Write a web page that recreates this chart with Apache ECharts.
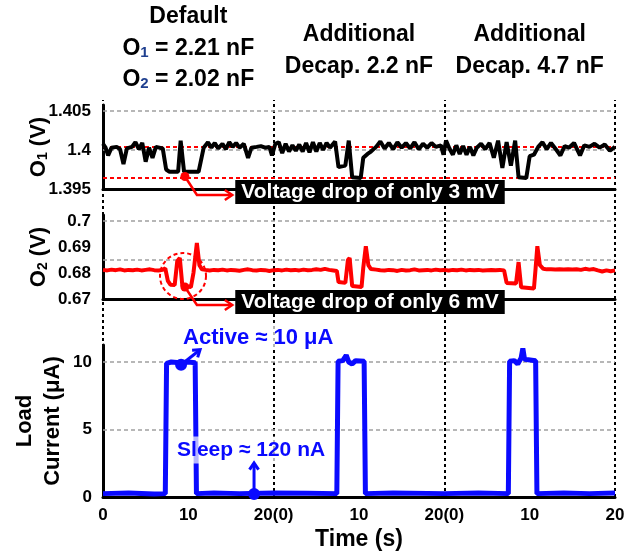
<!DOCTYPE html>
<html><head><meta charset="utf-8">
<script src="https://cdn.jsdelivr.net/npm/echarts@6/dist/echarts.min.js"></script>
<style>html,body{margin:0;padding:0;background:#fff}#c{width:639px;height:559px}</style>
</head><body><div id="c"></div>
<script>
// ---------- DATA ----------
const xTickLabels = ['0', '10', '20(0)', '10', '20(0)', '10', '20'];
const segmentBounds = [0, 20, 40, 60];
const segmentTitles = [
  { center: 10, top: 17, lines: ['Default', 'O{s|1} = 2.21 nF', 'O{s|2} = 2.02 nF'] },
  { center: 30, top: 35, lines: ['Additional', 'Decap. 2.2 nF'] },
  { center: 50, top: 35, lines: ['Additional', 'Decap. 4.7 nF'] }
];
const o1GridLines = [1.4, 1.405];
const o1RedLines = [1.4004, 1.3965];
const o2GridLines = [0.685, 0.7];
const currentGridLines = [5, 10];

const o1Data = [
[0,1.4008],[0.3,1.4003],[0.6,1.3993],[1.0,1.4003],[1.6,1.4004],[2.0,1.4001],[2.4,1.3982],[2.8,1.4002],[3.4,1.4004],[3.8,1.4010],
[4.2,1.4001],[4.6,1.4009],[5.0,1.3985],[5.4,1.4003],[5.8,1.3990],[6.2,1.4004],[6.6,1.4003],[7.0,1.4002],[7.4,1.3975],[7.8,1.3972],
[8.8,1.3972],[9.1,1.4012],[9.5,1.3972],[11.2,1.3972],[11.8,1.4003],[12.3,1.4010],[12.7,1.4003],[13.1,1.4009],[13.5,1.4002],[14.0,1.4008],
[14.4,1.4001],[14.8,1.4010],[15.2,1.4004],[15.6,1.4009],[16.0,1.4003],[16.5,1.4008],[17.0,1.3990],[17.4,1.4003],[18.0,1.4004],[18.5,1.4005],
[19.0,1.4003],[19.5,1.4004],[19.8,1.3993],[20.2,1.4008],[20.6,1.4010],[21.0,1.3996],[21.4,1.4008],[21.8,1.3998],[22.2,1.4006],[22.6,1.3999],
[23.0,1.4007],[23.4,1.3998],[23.8,1.4009],[24.2,1.3997],[24.6,1.4010],[25.0,1.3998],[25.4,1.4009],[25.8,1.4000],[26.2,1.4009],[26.6,1.4003],
[27.2,1.4011],[27.6,1.3978],[28.4,1.3980],[28.8,1.4012],[29.2,1.3965],[30.2,1.3964],[30.5,1.3990],[31.0,1.3995],[31.4,1.3998],[32.0,1.4004],
[32.5,1.4011],[33.0,1.4002],[33.5,1.4009],[34.0,1.4001],[34.5,1.4010],[35.0,1.4003],[35.5,1.4009],[36.0,1.4002],[36.5,1.4010],[37.0,1.4001],
[37.5,1.4008],[38.0,1.4003],[38.5,1.4009],[39.0,1.4004],[39.6,1.4006],[39.9,1.3994],[40.2,1.4012],[40.6,1.4002],[41.0,1.3994],[41.4,1.4006],
[41.8,1.3995],[42.2,1.4005],[42.6,1.3994],[43.0,1.4004],[43.4,1.3993],[43.8,1.4003],[44.3,1.4008],[44.8,1.4001],[45.3,1.4009],[45.8,1.3990],
[46.3,1.4012],[46.8,1.3977],[47.3,1.4010],[47.8,1.3980],[48.3,1.4012],[48.7,1.3965],[49.6,1.3964],[50.0,1.3992],[50.5,1.3994],[51.0,1.4004],
[51.5,1.4010],[52.0,1.4001],[52.5,1.4009],[53.0,1.4002],[53.6,1.3993],[54.1,1.4005],[54.6,1.4003],[55.2,1.4009],[55.9,1.3993],[56.4,1.4006],
[57.0,1.4004],[57.6,1.4008],[58.2,1.4003],[58.8,1.4007],[59.4,1.3999],[60.0,1.4004]
];

const o2Data = [
[0,0.6812],[0.5,0.6810],[1.0,0.6813],[1.5,0.6811],[2.0,0.6814],[2.5,0.6810],[3.0,0.6812],[3.5,0.6811],[4.0,0.6813],[4.5,0.6810],
[5.0,0.6812],[5.5,0.6814],[6.0,0.6811],[6.5,0.6810],[7.0,0.6812],[7.3,0.6818],[7.6,0.6770],[7.9,0.6755],[8.4,0.6754],[8.7,0.6845],
[9.0,0.6858],[9.3,0.6750],[9.5,0.6746],[10.3,0.6746],[10.6,0.6800],[11.0,0.6915],[11.3,0.6830],[11.6,0.6814],[12.0,0.6812],[12.5,0.6810],
[13.0,0.6812],[13.5,0.6811],[14.0,0.6813],[14.5,0.6810],[15.0,0.6812],[15.5,0.6811],[16.0,0.6809],[16.5,0.6812],[17.0,0.6814],[17.5,0.6811],
[18.0,0.6810],[18.5,0.6812],[19.0,0.6811],[19.5,0.6808],[20.0,0.6811],[20.5,0.6812],[21.0,0.6810],[21.5,0.6813],[22.0,0.6811],[22.5,0.6812],
[23.0,0.6810],[23.5,0.6813],[24.0,0.6811],[24.5,0.6812],[25.0,0.6814],[25.5,0.6812],[26.0,0.6816],[26.5,0.6812],[27.0,0.6810],[27.4,0.6808],
[27.6,0.6765],[28.4,0.6762],[28.7,0.6850],[28.9,0.6858],[29.2,0.6750],[29.4,0.6746],[30.3,0.6746],[30.5,0.6820],[30.8,0.6903],[31.1,0.6830],
[31.4,0.6815],[32.0,0.6813],[32.5,0.6811],[33.0,0.6810],[33.5,0.6812],[34.0,0.6811],[34.5,0.6808],[35.0,0.6812],[35.5,0.6810],[36.0,0.6811],
[36.5,0.6814],[37.0,0.6810],[37.5,0.6811],[38.0,0.6812],[38.5,0.6810],[39.0,0.6813],[39.5,0.6811],[40.0,0.6812],[40.5,0.6810],[41.0,0.6812],
[41.5,0.6811],[42.0,0.6813],[42.5,0.6810],[43.0,0.6812],[43.5,0.6811],[44.0,0.6812],[44.5,0.6810],[45.0,0.6811],[45.5,0.6812],[46.0,0.6811],
[46.5,0.6812],[47.0,0.6810],[47.3,0.6762],[48.4,0.6760],[48.7,0.6842],[49.0,0.6745],[49.2,0.6740],[50.5,0.6740],[50.7,0.6820],[50.9,0.6903],
[51.2,0.6830],[51.6,0.6816],[52.0,0.6814],[52.5,0.6814],[53.0,0.6813],[53.5,0.6814],[54.0,0.6813],[54.5,0.6814],[55.0,0.6813],[55.5,0.6814],
[56.0,0.6812],[56.5,0.6816],[57.0,0.6813],[57.5,0.6815],[58.0,0.6810],[58.5,0.6806],[59.0,0.6810],[59.5,0.6807],[60.0,0.6810]
];

const currentData = [
[0,0.25],[3,0.3],[6,0.22],[7.3,0.25],[7.45,9.9],[8,10],[9,9.95],[10,10],[10.8,9.95],[10.95,0.25],[13,0.3],[16,0.25],[20,0.3],[24,0.28],
[27.4,0.25],[27.55,10.05],[28.1,10.1],[28.5,10.5],[28.8,10.0],[29.2,9.85],[29.6,10.1],[30.6,10.05],[30.75,0.25],[34,0.3],[40,0.25],[44,0.3],
[47.5,0.25],[47.65,10.05],[48.2,10.1],[48.6,9.85],[49.0,10.3],[49.2,11.0],[49.4,10.2],[50.7,10.1],[50.85,0.25],[54,0.3],[57,0.25],[60,0.3]
];

const o1DropDot = [9.6, 1.3966];
const o2DropDot = [9.6, 0.6746];
const o2Circle = [9.375, 0.67885];
const activeDot = [9.15, 9.8];
const sleepDot = [17.7, 0.22];
const dropBoxStartX = 15.5;

// ---------- STYLE ----------
const FONT = '"Liberation Sans", Arial, Helvetica, sans-serif';
const BLUE = '#0a0aff', RED = '#ff0000';
const gridDash = { color: '#a0a0a0', type: [4, 3], width: 1.5 };

function hLines(vals, style) {
  return { silent: true, symbol: ['none', 'none'], label: { show: false }, animation: false, precision: 8,
    lineStyle: style, data: vals.map(v => ({ yAxis: v })) };
}
function yLabelFmt(step) {
  return v => Math.abs(v / step - Math.round(v / step)) < 1e-6 ? String(+v.toFixed(3)) : '';
}
const axisLineStyle = { show: true, onZero: false, lineStyle: { color: '#000', width: 3 } };
const nameStyle = { fontFamily: FONT, fontWeight: 'bold', fontSize: 22, color: '#000',
  rich: { s: { fontFamily: FONT, fontWeight: 'bold', fontSize: 14, color: '#000', verticalAlign: 'bottom', padding: [8, 0, 0, 0] } } };
const tickLabelStyle = { fontFamily: FONT, fontWeight: 'bold', fontSize: 17, color: '#000' };

const grids = [
  { left: 103, right: 24, top: 105, height: 84 },
  { left: 103, right: 24, top: 215, height: 84 },
  { left: 103, right: 24, top: 345, height: 152 },
  { left: 103, right: 24, top: 100, height: 397 }
];
function xAx(i, labels) {
  return { type: 'value', gridIndex: i, min: 0, max: 60, interval: 10, show: i !== 3,
    axisLine: axisLineStyle, axisTick: { show: false }, splitLine: { show: false },
    axisLabel: labels ? { show: true, margin: 10, ...tickLabelStyle, showMinLabel: true, showMaxLabel: true,
      formatter: v => xTickLabels[Math.round(v / 10)] } : { show: false },
    name: labels ? 'Time (s)' : '', nameLocation: 'middle', nameGap: 31, nameMoveOverlap: false,
    nameTextStyle: { fontFamily: FONT, fontWeight: 'bold', fontSize: 23, color: '#000' } };
}
const option = {
  animation: false,
  backgroundColor: '#fff',
  grid: grids,
  xAxis: [xAx(0, false), xAx(1, false), xAx(2, true), xAx(3, false)],
  yAxis: [
    { type: 'value', gridIndex: 0, min: 1.395, max: 1.395 + 84 / 7800, interval: 0.005,
      axisLine: axisLineStyle, axisTick: { show: false }, splitLine: { show: false },
      axisLabel: { margin: 12, ...tickLabelStyle, formatter: yLabelFmt(0.005) },
      name: 'O{s|1} (V)', nameLocation: 'middle', nameRotate: 90, nameGap: 53, nameMoveOverlap: false, nameTextStyle: nameStyle },
    { type: 'value', gridIndex: 1, min: 0.67, max: 0.67 + 84 / 2600, interval: 0.01,
      axisLine: axisLineStyle, axisTick: { show: false }, splitLine: { show: false },
      axisLabel: { margin: 12, ...tickLabelStyle, formatter: yLabelFmt(0.01) },
      name: 'O{s|2} (V)', nameLocation: 'middle', nameRotate: 90, nameGap: 53, nameMoveOverlap: false, nameTextStyle: nameStyle },
    { type: 'value', gridIndex: 2, min: 0, max: 152 / 13.5, interval: 5,
      axisLine: axisLineStyle, axisTick: { show: false }, splitLine: { show: false },
      axisLabel: { margin: 11, ...tickLabelStyle, formatter: yLabelFmt(5) },
      name: 'Load\nCurrent (μA)', nameLocation: 'middle', nameRotate: 90, nameGap: 36, nameMoveOverlap: false,
      nameTextStyle: { ...nameStyle, lineHeight: 28 } },
    { type: 'value', gridIndex: 3, min: 0, max: 1, show: false }
  ],
  series: [
    { type: 'line', xAxisIndex: 3, yAxisIndex: 3, data: [[0, 0]], showSymbol: false, z: 1,
      lineStyle: { opacity: 0 },
      markLine: { silent: true, symbol: ['none', 'none'], label: { show: false }, animation: false,
        lineStyle: { color: '#000', type: [3, 3], width: 2 }, data: segmentBounds.map(v => ({ xAxis: v })) } },
    { type: 'line', xAxisIndex: 0, yAxisIndex: 0, data: o1Data, showSymbol: false, z: 5,
      lineStyle: { color: '#000', width: 4 },
      markLine: { ...hLines(o1GridLines, gridDash) } },
    { type: 'line', xAxisIndex: 0, yAxisIndex: 0, data: [], z: 6,
      markLine: { ...hLines(o1RedLines, { color: RED, type: [4, 3], width: 2 }) } },
    { type: 'line', xAxisIndex: 1, yAxisIndex: 1, data: o2Data, showSymbol: false, z: 5,
      lineStyle: { color: RED, width: 4 },
      markLine: { ...hLines(o2GridLines, gridDash) } },
    { type: 'line', xAxisIndex: 2, yAxisIndex: 2, data: currentData, showSymbol: false, z: 5,
      lineStyle: { color: BLUE, width: 5 },
      markLine: { ...hLines(currentGridLines, gridDash) } }
  ]
};

const chart = echarts.init(document.getElementById('c'));
chart.setOption(option);
const P = (i, pt) => chart.convertToPixel({ xAxisIndex: i, yAxisIndex: i }, pt);

const g = [];
function arrow(points, color, width, head) {
  g.push({ type: 'polyline', z: 100, shape: { points }, style: { stroke: color, lineWidth: width, fill: null } });
  const [x1, y1] = points[points.length - 2], [x2, y2] = points[points.length - 1];
  const a = Math.atan2(y2 - y1, x2 - x1), h = head;
  g.push({ type: 'polyline', z: 100, shape: { points: [
    [x2 - h * Math.cos(a - 0.6), y2 - h * Math.sin(a - 0.6)], [x2, y2],
    [x2 - h * Math.cos(a + 0.6), y2 - h * Math.sin(a + 0.6)]] },
    style: { stroke: color, lineWidth: width, fill: null } });
}
// titles
segmentTitles.forEach(t => {
  const cx = P(2, [t.center, 0])[0];
  t.lines.forEach((ln, k) => g.push({ type: 'text', z: 100, style: {
    text: ln, x: cx, y: t.top + k * 31.5, align: 'center', verticalAlign: 'middle',
    fontFamily: FONT, fontWeight: 'bold', fontSize: 23, fill: '#000',
    rich: { s: { fontFamily: FONT, fontWeight: 'bold', fontSize: 15, fill: '#1f3f8f', verticalAlign: 'bottom', padding: [8, 0, 0, 0] } } } }));
});
// drop boxes
[[0, o1DropDot, 'Voltage drop of only 3 mV', 1.395], [1, o2DropDot, 'Voltage drop of only 6 mV', 0.67]].forEach(([i, dot, txt, base]) => {
  const d = P(i, dot), b = P(i, [dropBoxStartX, base]);
  const yy = b[1] + 6;
  g.push({ type: 'text', z: 101, style: { text: txt, x: b[0], y: b[1] + 3, verticalAlign: 'middle',
    fill: '#fff', backgroundColor: '#000', padding: [2, 6, 1, 6], fontFamily: FONT, fontWeight: 'bold', fontSize: 21 } });
  arrow([[d[0], d[1]], [d[0] + 12, yy], [b[0] - 3, yy]], RED, 2.5, 9);
  g.push({ type: 'circle', z: 101, shape: { cx: d[0], cy: d[1], r: 4.5 }, style: { fill: RED } });
});
// dashed circle
const cc = P(1, o2Circle);
g.push({ type: 'circle', z: 100, shape: { cx: cc[0], cy: cc[1], r: 23 }, style: { fill: null, stroke: RED, lineWidth: 2, lineDash: [4, 3] } });
// active
const ad = P(2, activeDot);
g.push({ type: 'text', z: 100, style: { text: 'Active ≈ 10 μA', x: ad[0] + 1, y: ad[1] - 27, verticalAlign: 'middle',
  fill: BLUE, fontFamily: FONT, fontWeight: 'bold', fontSize: 22, backgroundColor: 'rgba(255,255,255,0.7)', padding: [1, 1] } });
arrow([[ad[0], ad[1]], [ad[0] + 19, ad[1] - 15]], BLUE, 3, 8);
g.push({ type: 'circle', z: 101, shape: { cx: ad[0], cy: ad[1], r: 6 }, style: { fill: BLUE } });
// sleep
const sd = P(2, sleepDot);
g.push({ type: 'text', z: 100, style: { text: 'Sleep ≈ 120 nA', x: sd[0] - 82, y: sd[1] - 44, verticalAlign: 'middle',
  fill: BLUE, fontFamily: FONT, fontWeight: 'bold', fontSize: 21, backgroundColor: 'rgba(255,255,255,0.7)', padding: [3, 5] } });
arrow([[sd[0], sd[1]], [sd[0], sd[1] - 31]], BLUE, 3, 8);
g.push({ type: 'circle', z: 101, shape: { cx: sd[0], cy: sd[1], r: 6 }, style: { fill: BLUE } });

chart.setOption({ graphic: g });
</script>
</body></html>
